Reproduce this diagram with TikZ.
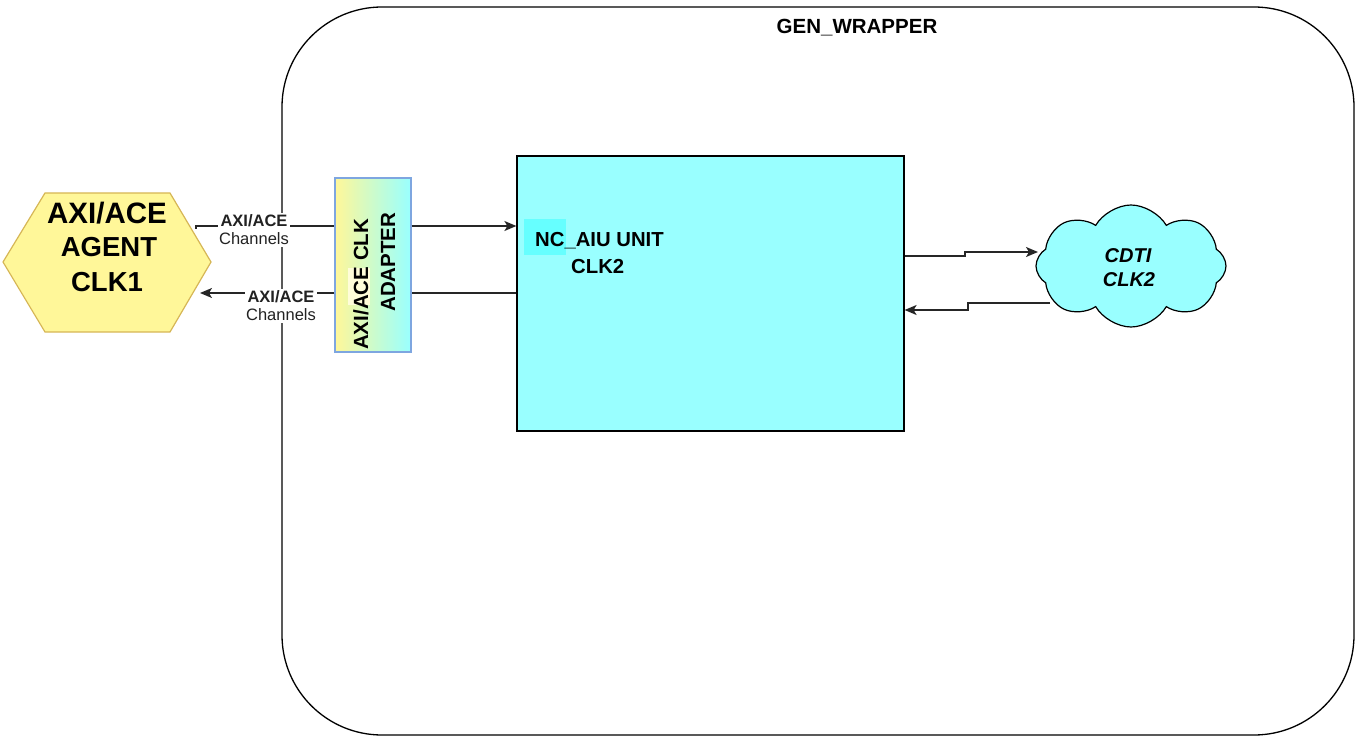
\documentclass[tikz,border=0pt]{standalone}
\usepackage{fontspec}
\setmainfont{Liberation Sans}
\usetikzlibrary{shapes.symbols,arrows.meta}
\definecolor{hexfill}{HTML}{FFF799}
\definecolor{hexline}{HTML}{D6B656}
\definecolor{cyanfill}{HTML}{99FFFF}
\definecolor{nchl}{HTML}{66FFFF}
\definecolor{adline}{HTML}{7EA6E0}
\definecolor{lbl}{HTML}{222222}
\tikzset{
  wire/.style={draw=black!85, line width=1.5pt},
  arr/.style={draw=black!85, line width=1.5pt, -{Stealth[length=12pt,width=10pt,inset=3pt]}},
  txt/.style={inner sep=0pt, anchor=base, text=black},
  chlbl/.style={fill=white, inner sep=1.5pt, align=center, font=\fontsize{16.5}{19}\selectfont, text=lbl},
}
\begin{document}
\begin{tikzpicture}[x=1pt,y=-1pt]
\useasboundingbox (0,0) rectangle (1366,746);
% wrapper
\draw[line width=1.3pt, rounded corners=100pt] (282,7) rectangle (1354,735);
\node[txt, font=\fontsize{20.5}{24}\selectfont\bfseries] (wraplbl) at (857,34) {GEN\_WRAPPER};
% agent hexagon
\draw[fill=hexfill, draw=hexline, line width=1.2pt] (3,262) -- (45,193) -- (170,193) -- (211,262) -- (170,332) -- (45,332) -- cycle;
\coordinate (agentTop) at (196,229);
\coordinate (agentBot) at (200,293);
\node[txt, font=\fontsize{29.5}{32}\selectfont\bfseries] (ag1) at (107,224) {AXI/ACE};
\node[txt, font=\fontsize{27.5}{30}\selectfont\bfseries] (ag2) at (109,257) {AGENT};
\node[txt, font=\fontsize{27.5}{30}\selectfont\bfseries] (ag3) at (107,291) {CLK1};
% adapter
\node[draw=adline, line width=1.2pt, left color=hexfill, right color=cyanfill, minimum width=76pt, minimum height=174pt, inner sep=0pt] (adapter) at (373,265) {};
\fill[fill=white!85!yellow] (348,268) rectangle (370,305);
\node[txt, rotate=90, anchor=base west, font=\fontsize{20.5}{24}\selectfont\bfseries] (ad1) at (368,350) {AXI/ACE CLK};
\node[txt, rotate=90, anchor=base west, font=\fontsize{20.5}{24}\selectfont\bfseries] (ad2) at (395,312) {ADAPTER};
% AIU
\node[draw=black, line width=1.2pt, fill=cyanfill, minimum width=387pt, minimum height=275pt, inner sep=0pt] (aiu) at (710.5,293.5) {};
\fill[nchl] (524,219) rectangle (566,255);
\node[txt, anchor=base west, font=\fontsize{20.3}{23}\selectfont\bfseries] (aiu1) at (535,247) {NC\_AIU UNIT};
\node[txt, anchor=base west, font=\fontsize{20.3}{23}\selectfont\bfseries] (aiu2) at (571,273) {CLK2};
% cloud
\node[cloud, cloud puffs=8, cloud puff arc=120, aspect=1.6, draw=black, line width=1.2pt, fill=cyanfill, minimum width=190pt, minimum height=122pt, inner sep=0pt] (cdti) at (1131,266) {};
\node[txt, font=\fontsize{20}{23}\selectfont\bfseries\itshape] (cd1) at (1128,262) {CDTI};
\node[txt, font=\fontsize{20}{23}\selectfont\bfseries\itshape] (cd2) at (1129,287) {CLK2};
% connectors agent <-> adapter
\draw[wire] (agentTop) -- (196,226) -- (adapter.west |- 0,226);
\draw[arr] (adapter.west |- 0,293) -- (agentBot);
\node[chlbl] (ch1) at (254,230) {\bfseries AXI/ACE\\[-1pt]Channels};
\node[chlbl] (ch2) at (281,306) {\bfseries AXI/ACE\\[-1pt]Channels};
% adapter <-> aiu
\draw[arr] (adapter.east |- 0,226) -- (aiu.west |- 0,226);
\draw[wire] (aiu.west |- 0,293) -- (adapter.east |- 0,293);
% aiu <-> cloud
\draw[arr] (aiu.east |- 0,256) -- (965,256) -- (965,252) -- (1038,252);
\draw[arr] (1050,303) -- (968,303) -- (968,310) -- (aiu.east |- 0,310);
\end{tikzpicture}
\end{document}
